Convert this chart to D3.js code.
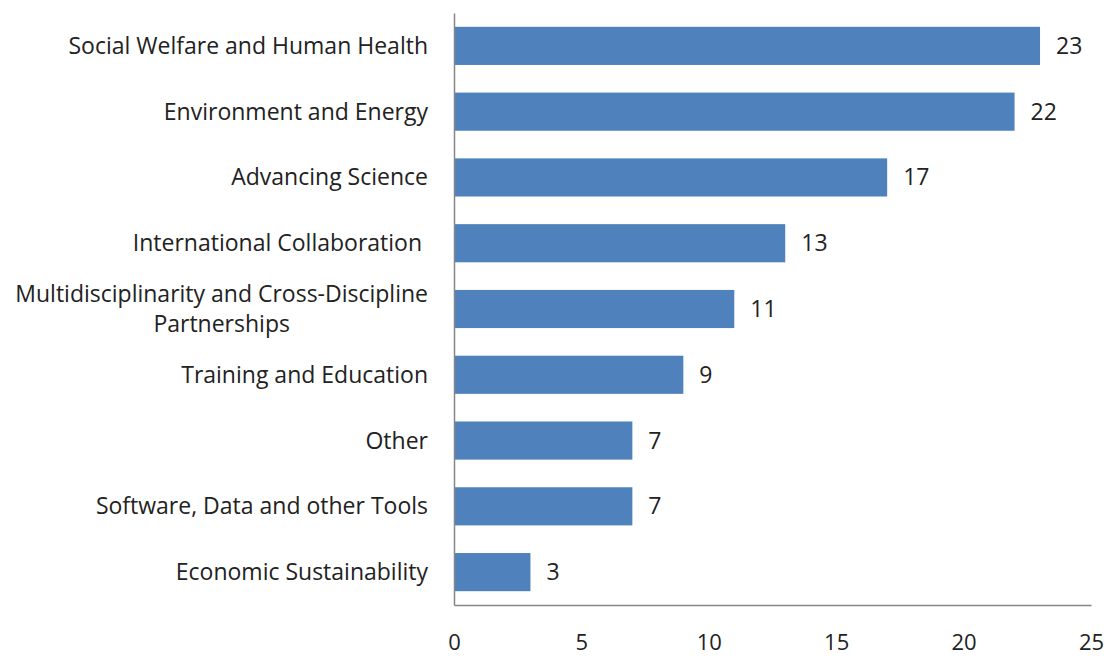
<!DOCTYPE html>
<html><head><meta charset="utf-8">
<script src="https://cdn.jsdelivr.net/npm/d3@7"></script>
<style>body{margin:0;background:#fff}text{font-family:"Open Sans",sans-serif;fill:#222}</style>
</head><body><svg id="c" width="1108" height="658"></svg>
<script>
const categories = ["Social Welfare and Human Health","Environment and Energy","Advancing Science","International Collaboration ","Multidisciplinarity and Cross-Discipline\nPartnerships","Training and Education","Other","Software, Data and other Tools","Economic Sustainability"];
const values = [23,22,17,13,11,9,7,7,3];
const ticks = [0,5,10,15,20,25];

const svg = d3.select("#c");
const x = d3.scaleLinear().domain([0,25]).range([454,1091]);
const y = d3.scaleBand().domain(categories).range([13,605]).paddingInner(0.42).paddingOuter(0.21);
const fs = 23;

svg.selectAll("rect.bar").data(values).join("rect").attr("class","bar")
  .attr("x",x(0)).attr("y",(d,i)=>y(categories[i])).attr("width",d=>x(d)-x(0)).attr("height",y.bandwidth()).attr("fill","#4f81bd");

svg.selectAll("text.val").data(values).join("text").attr("class","val")
  .attr("x",d=>x(d)+16).attr("y",(d,i)=>y(categories[i])+y.bandwidth()/2).attr("dy","0.35em")
  .style("font-size",fs+"px").text(d=>d);

// category labels
categories.forEach((c,i)=>{
  const lines = c.split("\n");
  const cy = y(c)+y.bandwidth()/2;
  const g = svg.append("text").style("font-size",fs+"px").attr("xml:space","preserve").style("white-space","pre");
  const lh = 30;
  lines.forEach((l,j)=>{
    g.append("tspan").attr("y",cy+(j-(lines.length-1)/2)*lh).attr("dy","0.35em").text(l);
  });
  if(lines.length===1){ g.attr("text-anchor","end").selectAll("tspan").attr("x",428); }
  else {
    const w = d3.max(g.selectAll("tspan").nodes(),n=>n.getComputedTextLength());
    g.attr("text-anchor","middle").selectAll("tspan").attr("x",428-w/2);
  }
});

// axes
const xAxis = d3.axisBottom(x).tickValues(ticks).tickSize(0).tickPadding(29);
const gx = svg.append("g").attr("transform","translate(0,605)").call(xAxis);
gx.select(".domain").attr("stroke","#868686").attr("stroke-width",1.5);
gx.selectAll("text").style("font-size","22px").style("font-family","'Open Sans',sans-serif").attr("fill","#222");

const yAxis = d3.axisLeft(d3.scaleLinear().range([13,605])).tickValues([]).tickSize(0);
const gy = svg.append("g").attr("transform","translate(454,0)").call(yAxis);
gy.select(".domain").attr("stroke","#868686").attr("stroke-width",1.5);
</script></body></html>
